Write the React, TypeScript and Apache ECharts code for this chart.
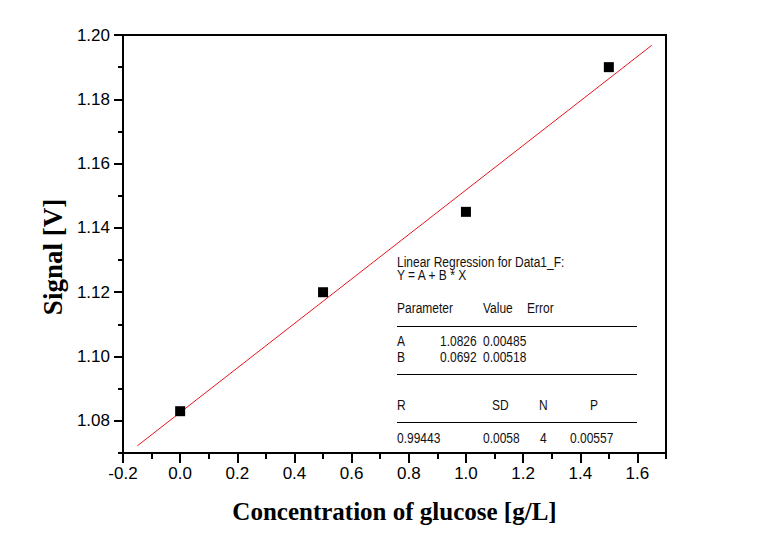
import React, { useEffect, useRef } from "react";
import * as echarts from "echarts";

const xValues = [0.0, 0.5, 1.0, 1.5];
const yValues = [1.083, 1.12, 1.145, 1.19];
const fitA = 1.0826;
const fitB = 0.0692;
const fitRange = [-0.15, 1.65];
const xMajorTicks = [-0.2, 0.0, 0.2, 0.4, 0.6, 0.8, 1.0, 1.2, 1.4, 1.6];
const yMajorTicks = [1.08, 1.1, 1.12, 1.14, 1.16, 1.18, 1.2];

const statTitle = ["Linear Regression for Data1_F:", "Y = A + B * X"];
const paramHeader = ["Parameter", "Value", "Error"];
const paramRows = [
  ["A", "1.0826", "0.00485"],
  ["B", "0.0692", "0.00518"],
];
const statHeader = ["R", "SD", "N", "P"];
const statValues = ["0.99443", "0.0058", "4", "0.00557"];

export default function App() {
  const ref = useRef<HTMLDivElement>(null);
  useEffect(() => {
    if (!ref.current) return;
    const chart = echarts.init(ref.current, null, { renderer: "svg" });
    const font = "'Liberation Sans', Arial, sans-serif";
    const tx = (text: string, x: number, y: number) => ({
      type: "text",
      x,
      y,
      scaleX: 0.8,
      style: {
        text,
        fill: "#111",
        font: `15px ${font}`,
        verticalAlign: "middle",
        align: "left",
      },
    });
    const hl = (y: number) => ({
      type: "line",
      shape: { x1: 397, y1: y, x2: 637, y2: y },
      style: { stroke: "#000", lineWidth: 1 },
    });
    const graphics: any[] = [
      tx(statTitle[0], 397, 262),
      tx(statTitle[1], 397, 275),
      tx(paramHeader[0], 397, 308),
      tx(paramHeader[1], 483, 308),
      tx(paramHeader[2], 527, 308),
      hl(326.5),
      tx(paramRows[0][0], 397, 341),
      tx(paramRows[0][1], 440, 341),
      tx(paramRows[0][2], 483, 341),
      tx(paramRows[1][0], 397, 357),
      tx(paramRows[1][1], 440, 357),
      tx(paramRows[1][2], 483, 357),
      hl(374.5),
      tx(statHeader[0], 397, 405),
      tx(statHeader[1], 492, 405),
      tx(statHeader[2], 539, 405),
      tx(statHeader[3], 590, 405),
      hl(422.5),
      tx(statValues[0], 397, 438),
      tx(statValues[1], 483, 438),
      tx(statValues[2], 540, 438),
      tx(statValues[3], 570, 438),
    ];
    const axisLabelStyle = {
      color: "#000",
      fontSize: 17,
      fontFamily: font,
    };
    const titleStyle = {
      color: "#000",
      fontSize: 25,
      fontWeight: "bold",
      fontFamily: "'Liberation Serif', 'Times New Roman', serif",
    };
    chart.setOption({
      animation: false,
      backgroundColor: "#fff",
      grid: {
        left: 123,
        top: 35,
        width: 543,
        height: 418,
        show: true,
        borderColor: "#000",
        borderWidth: 2,
        backgroundColor: "transparent",
      },
      xAxis: [
        {
          type: "value",
          min: -0.2,
          max: 1.7,
          interval: 0.2,
          name: "Concentration of glucose [g/L]",
          nameLocation: "middle",
          nameGap: 46,
          nameTextStyle: titleStyle,
          axisLine: { show: true, onZero: false, lineStyle: { color: "#000", width: 2 } },
          axisTick: {
            show: true,
            length: 10,
            lineStyle: { color: "#000", width: 2 },
            customValues: xMajorTicks,
          },
          axisLabel: {
            ...axisLabelStyle,
            margin: 12,
            customValues: xMajorTicks,
            formatter: (v: number) => v.toFixed(1),
          },
          splitLine: { show: false },
        },
        {
          type: "value",
          position: "bottom",
          min: -0.2,
          max: 1.7,
          interval: 0.1,
          axisLine: { show: false, onZero: false },
          axisTick: { show: true, length: 6, lineStyle: { color: "#000", width: 2 } },
          axisLabel: { show: false },
          splitLine: { show: false },
        },
      ],
      yAxis: [
        {
          type: "value",
          min: 1.07,
          max: 1.2,
          name: "Signal [V]",
          nameLocation: "middle",
          nameGap: 56,
          nameTextStyle: { ...titleStyle, fontSize: 27, padding: [0, 26, 0, 0] },
          axisLine: { show: true, onZero: false, lineStyle: { color: "#000", width: 2 } },
          axisTick: {
            show: true,
            length: 9,
            lineStyle: { color: "#000", width: 2 },
            customValues: yMajorTicks,
          },
          axisLabel: {
            ...axisLabelStyle,
            margin: 13,
            customValues: yMajorTicks,
            formatter: (v: number) => v.toFixed(2),
          },
          splitLine: { show: false },
        },
        {
          type: "value",
          position: "left",
          min: 1.07,
          max: 1.2,
          interval: 0.01,
          axisLine: { show: false, onZero: false },
          axisTick: { show: true, length: 5, lineStyle: { color: "#000", width: 2 } },
          axisLabel: { show: false },
          splitLine: { show: false },
        },
      ],
      series: [
        {
          type: "line",
          data: fitRange.map((x) => [x, fitA + fitB * x]),
          symbol: "none",
          lineStyle: { color: "#e8141c", width: 1 },
          z: 2,
        },
        {
          type: "scatter",
          data: xValues.map((x, i) => [x, yValues[i]]),
          symbol: "rect",
          symbolSize: 10,
          itemStyle: { color: "#000", opacity: 1 },
          z: 3,
        },
      ],
      graphic: graphics,
    });
    return () => chart.dispose();
  }, []);
  return (
    <div
      ref={ref}
      style={{ position: "fixed", left: 0, top: 0, width: 771, height: 556 }}
    />
  );
}
